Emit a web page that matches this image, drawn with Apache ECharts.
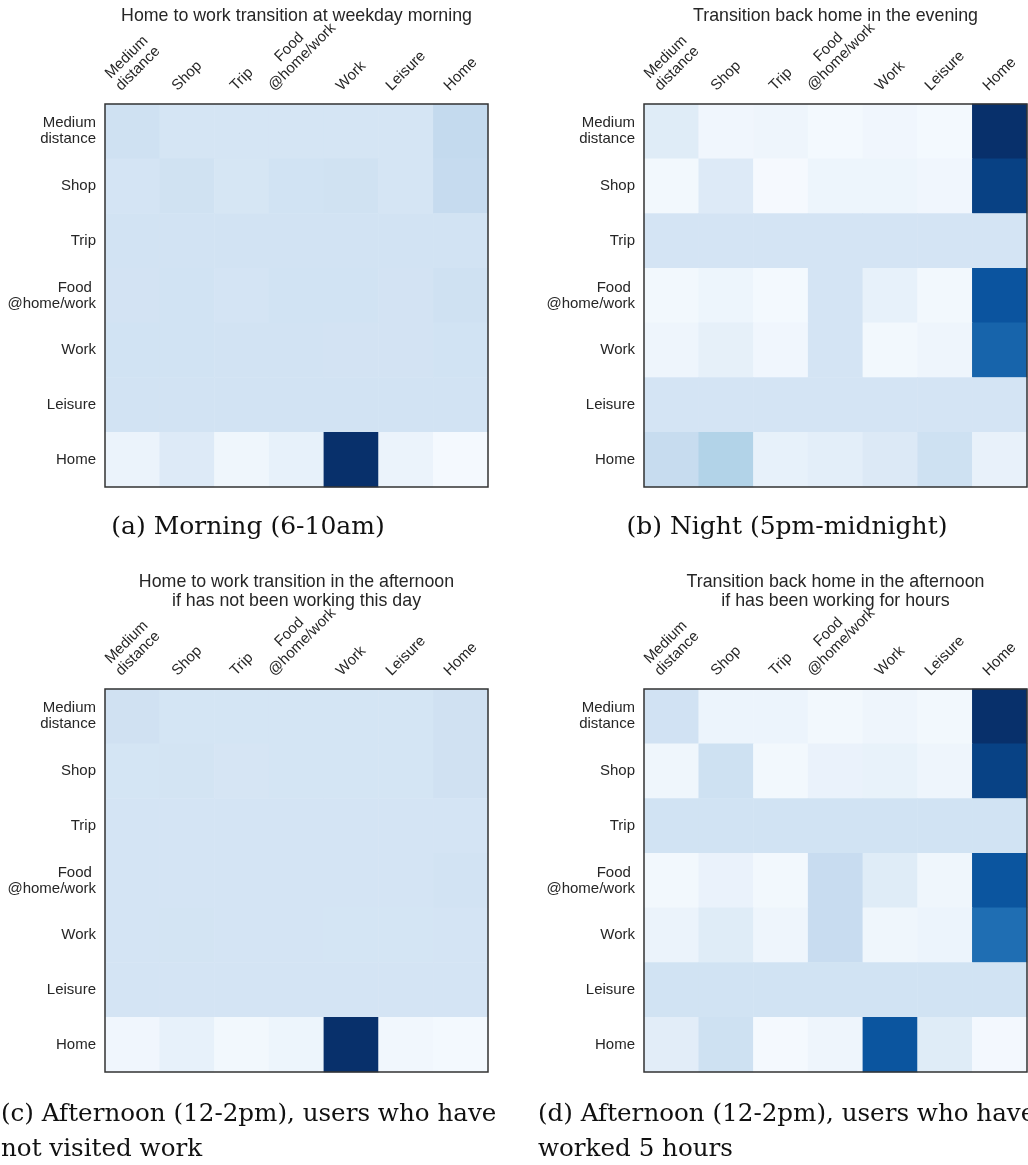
<!DOCTYPE html>
<html>
<head>
<meta charset="utf-8">
<script src="https://cdn.jsdelivr.net/npm/echarts@6/dist/echarts.min.js"></script>
<style>
  html, body { margin: 0; padding: 0; background: #ffffff; }
  #chart { width: 1028px; height: 1165px; }
</style>
</head>
<body>
<div id="chart"></div>
<script>
// Activity states (rows: current state, columns: next state)
const states = ['Medium\ndistance', 'Shop', 'Trip', 'Food \n@home/work', 'Work', 'Leisure', 'Home'];

// Transition probabilities, weekday morning (6-10am)
const morningMatrix = [
  [0.155, 0.130, 0.130, 0.130, 0.130, 0.130, 0.195],
  [0.135, 0.150, 0.125, 0.145, 0.150, 0.130, 0.190],
  [0.143, 0.143, 0.143, 0.143, 0.143, 0.143, 0.143],
  [0.140, 0.145, 0.135, 0.145, 0.145, 0.140, 0.155],
  [0.145, 0.145, 0.143, 0.143, 0.140, 0.140, 0.145],
  [0.143, 0.143, 0.143, 0.143, 0.143, 0.143, 0.143],
  [0.045, 0.100, 0.030, 0.060, 0.760, 0.045, 0.010]
];

// Transition probabilities, night (5pm-midnight)
const nightMatrix = [
  [0.095, 0.030, 0.035, 0.015, 0.030, 0.015, 0.800],
  [0.020, 0.105, 0.010, 0.040, 0.040, 0.030, 0.750],
  [0.143, 0.143, 0.143, 0.143, 0.143, 0.143, 0.143],
  [0.020, 0.040, 0.015, 0.143, 0.065, 0.020, 0.690],
  [0.035, 0.070, 0.030, 0.143, 0.020, 0.035, 0.640],
  [0.143, 0.143, 0.143, 0.143, 0.143, 0.143, 0.143],
  [0.196, 0.250, 0.065, 0.080, 0.110, 0.165, 0.060]
];

// Afternoon (12-2pm), users who have not visited work
const afternoonIdleMatrix = [
  [0.160, 0.140, 0.140, 0.140, 0.140, 0.140, 0.160],
  [0.140, 0.145, 0.135, 0.140, 0.140, 0.140, 0.160],
  [0.143, 0.143, 0.143, 0.143, 0.143, 0.143, 0.143],
  [0.143, 0.143, 0.143, 0.143, 0.143, 0.143, 0.150],
  [0.143, 0.145, 0.143, 0.143, 0.140, 0.140, 0.143],
  [0.143, 0.143, 0.143, 0.143, 0.143, 0.143, 0.143],
  [0.030, 0.065, 0.020, 0.040, 0.800, 0.025, 0.015]
];

// Afternoon (12-2pm), users who worked 5 hours
const afternoonWorkedMatrix = [
  [0.145, 0.040, 0.040, 0.020, 0.035, 0.020, 0.750],
  [0.030, 0.155, 0.020, 0.050, 0.055, 0.035, 0.700],
  [0.143, 0.143, 0.143, 0.143, 0.143, 0.143, 0.143],
  [0.020, 0.050, 0.020, 0.180, 0.090, 0.030, 0.645],
  [0.045, 0.090, 0.035, 0.180, 0.030, 0.040, 0.570],
  [0.143, 0.143, 0.143, 0.143, 0.143, 0.143, 0.143],
  [0.080, 0.155, 0.010, 0.035, 0.645, 0.090, 0.015]
];

const panelTitles = [
  'Home to work transition at weekday morning',
  'Transition back home in the evening',
  'Home to work transition in the afternoon\nif has not been working this day',
  'Transition back home in the afternoon\nif has been working for hours'
];

const captions = [
  '(a) Morning (6-10am)',
  '(b) Night (5pm-midnight)',
  '(c) Afternoon (12-2pm), users who have\nnot visited work',
  '(d) Afternoon (12-2pm), users who have\nworked 5 hours'
];

const matrices = [morningMatrix, nightMatrix, afternoonIdleMatrix, afternoonWorkedMatrix];

// matplotlib "Blues" colour ramp
const blues = ['#f7fbff', '#deebf7', '#c6dbef', '#9ecae1', '#6baed6', '#4292c6', '#2171b5', '#08519c', '#08306b'];

// ---- layout ----
const SIZE = 383;
const frames = [
  { left: 105, top: 104 },
  { left: 644, top: 104 },
  { left: 105, top: 689 },
  { left: 644, top: 689 }
];
const SANS = '"Liberation Sans", Arial, sans-serif';
const SERIF = '"DejaVu Serif", serif';
const TEXT_COLOR = '#262626';
const LABEL_SIZE = 15;
const LABEL_LH = 16;

// Rotated top labels: pad each one so its rotated box is centred on the tick
// and every box rests on the same line above the frame.
const measureCtx = document.createElement('canvas').getContext('2d');
measureCtx.font = LABEL_SIZE + 'px ' + SANS;
function topCategory(name) {
  const lines = name.split('\n');
  const w = Math.max.apply(null, lines.map(s => measureCtx.measureText(s).width));
  const h = lines.length * LABEL_LH;
  const b = Math.max(0, (w - h) / 4);
  const l = (w + h) / 2;
  return {
    value: name,
    textStyle: { align: 'center', verticalAlign: 'bottom', padding: [0, 0, b, l] }
  };
}

function toCells(matrix) {
  const out = [];
  matrix.forEach((row, r) => row.forEach((v, c) => out.push([c, r, v])));
  return out;
}

const grid = [], xAxis = [], yAxis = [], series = [], visualMap = [], graphic = [];

frames.forEach((f, i) => {
  grid.push({
    left: f.left, top: f.top, width: SIZE, height: SIZE,
    show: true, z: 10,
    backgroundColor: 'transparent',
    borderColor: '#333333', borderWidth: 1.5,
    containLabel: false, outerBoundsMode: 'none'
  });
  xAxis.push({
    type: 'category', gridIndex: i, position: 'top',
    data: states.map(topCategory),
    axisLine: { show: false }, axisTick: { show: false }, splitLine: { show: false },
    axisLabel: {
      interval: 0, rotate: -45, margin: 10,
      align: 'center', verticalAlign: 'bottom',
      fontFamily: SANS, fontSize: LABEL_SIZE, lineHeight: LABEL_LH, color: TEXT_COLOR
    }
  });
  yAxis.push({
    type: 'category', gridIndex: i, inverse: true,
    data: states,
    axisLine: { show: false }, axisTick: { show: false }, splitLine: { show: false },
    axisLabel: {
      interval: 0, margin: 9,
      fontFamily: SANS, fontSize: LABEL_SIZE, lineHeight: LABEL_LH, color: TEXT_COLOR
    }
  });
  const m = matrices[i];
  series.push({
    type: 'heatmap', xAxisIndex: i, yAxisIndex: i,
    data: toCells(m),
    itemStyle: { borderWidth: 0 },
    emphasis: { disabled: true }
  });
  visualMap.push({
    show: false, seriesIndex: i, dimension: 2,
    min: 0, max: Math.max.apply(null, m.map(r => Math.max.apply(null, r))),
    inRange: { color: blues }
  });

  // panel title
  graphic.push({
    type: 'text', x: f.left + SIZE / 2, y: f.top - 78,
    style: {
      text: panelTitles[i], fill: TEXT_COLOR,
      font: '17.8px ' + SANS, lineHeight: 19,
      textAlign: 'center', textVerticalAlign: 'bottom'
    }
  });
});

// sub-figure captions
graphic.push({
  type: 'text', x: frames[0].left + 143, y: frames[0].top + SIZE + 40,
  style: { text: captions[0], fill: '#111', font: '25px ' + SERIF, textAlign: 'center', textVerticalAlign: 'middle' }
});
graphic.push({
  type: 'text', x: frames[1].left + 143, y: frames[1].top + SIZE + 40,
  style: { text: captions[1], fill: '#111', font: '25px ' + SERIF, textAlign: 'center', textVerticalAlign: 'middle' }
});
graphic.push({
  type: 'text', x: frames[2].left - 104, y: frames[2].top + SIZE + 25,
  style: { text: captions[2], fill: '#111', font: '24.6px ' + SERIF, lineHeight: 35, textAlign: 'left', textVerticalAlign: 'top' }
});
graphic.push({
  type: 'text', x: frames[3].left - 106, y: frames[3].top + SIZE + 25,
  style: { text: captions[3], fill: '#111', font: '24.6px ' + SERIF, lineHeight: 35, textAlign: 'left', textVerticalAlign: 'top' }
});

const chart = echarts.init(document.getElementById('chart'), null, { renderer: 'canvas' });
chart.setOption({
  backgroundColor: '#ffffff',
  animation: false,
  grid, xAxis, yAxis, visualMap, series, graphic
});
</script>
</body>
</html>
